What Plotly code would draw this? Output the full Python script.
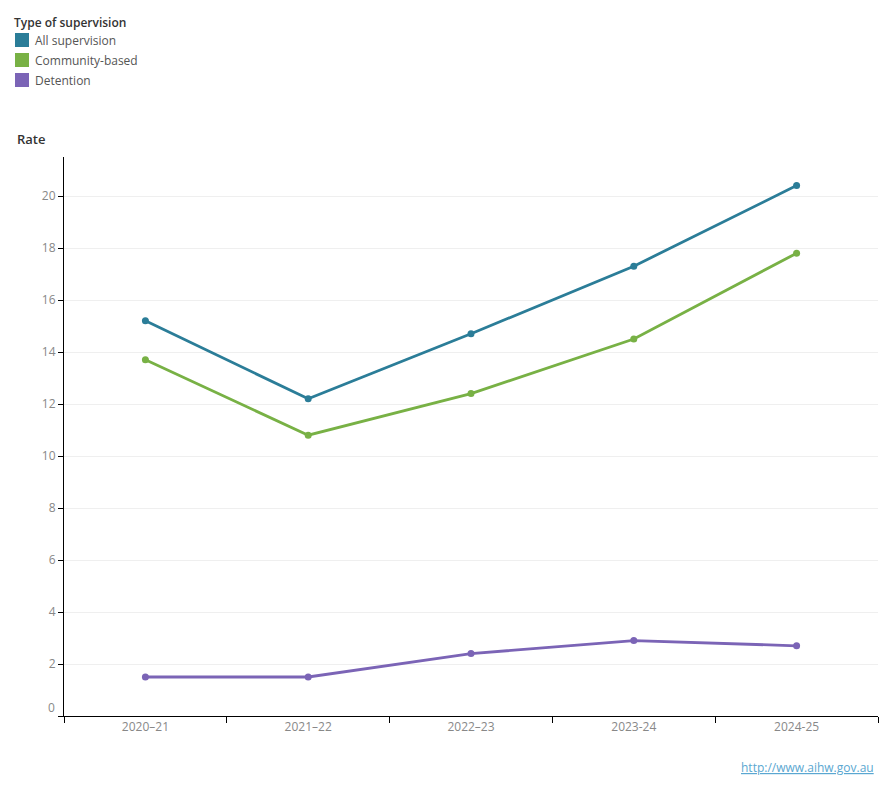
import plotly.graph_objects as go

# ---- data ----
years = ["2020–21", "2021–22", "2022–23", "2023-24", "2024-25"]
series_names = ["All supervision", "Community-based", "Detention"]
all_supervision = [15.2, 12.2, 14.7, 17.3, 20.4]
community_based = [13.7, 10.8, 12.4, 14.5, 17.8]
detention = [1.5, 1.5, 2.4, 2.9, 2.7]
series_colors = ["#2b7d98", "#78b145", "#7b64b6"]
y_tickvals = [0, 2, 4, 6, 8, 10, 12, 14, 16, 18, 20]
y_ticktext = ["", "2", "4", "6", "8", "10", "12", "14", "16", "18", "20"]

W, H = 890, 800
L, R, T, B = 64, 12, 157, 84
PW, PH = W - L - R, H - T - B


def px(x):
    return (x - L) / PW


def py(y):
    return (H - B - y) / PH


FONT = "Open Sans"
fig = go.Figure()
for name, vals, col in zip(series_names, [all_supervision, community_based, detention], series_colors):
    fig.add_trace(go.Scatter(
        x=years, y=vals, name=name, mode="lines+markers",
        line=dict(color=col, width=2.8), marker=dict(color=col, size=7),
        showlegend=False))

shapes = []
annotations = []
# legend
annotations.append(dict(xref="paper", yref="paper", x=px(12), y=py(22), xanchor="left", yanchor="middle",
                        text="Type of supervision", showarrow=False,
                        font=dict(family=FONT, size=12, color="#333333", weight=600)))
for i, (name, col) in enumerate(zip(series_names, series_colors)):
    cy = 40 + 20 * i
    shapes.append(dict(type="rect", xref="paper", yref="paper", x0=px(15), x1=px(29),
                       y0=py(cy + 7), y1=py(cy - 7), fillcolor=col, line=dict(width=0)))
    annotations.append(dict(xref="paper", yref="paper", x=px(33), y=py(cy), xanchor="left", yanchor="middle",
                            text=name, showarrow=False, font=dict(family=FONT, size=12, color="#555555")))
# axis title
annotations.append(dict(xref="paper", yref="paper", x=px(15), y=py(139), xanchor="left", yanchor="middle",
                        text="Rate", showarrow=False,
                        font=dict(family=FONT, size=13, color="#333333", weight=600)))
# zero label shifted up
annotations.append(dict(xref="paper", yref="y", x=px(57), y=0, yshift=9, xanchor="right", yanchor="middle",
                        text="0", showarrow=False, font=dict(family=FONT, size=12, color="#888888")))
# source link
annotations.append(dict(xref="paper", yref="paper", x=px(876), y=py(767), xanchor="right", yanchor="middle",
                        text="<u>http://www.aihw.gov.au</u>", showarrow=False,
                        font=dict(family=FONT, size=12, color="#5aa7d1")))

fig.update_layout(
    width=W, height=H,
    margin=dict(l=L, r=R, t=T, b=B, pad=0),
    paper_bgcolor="white", plot_bgcolor="white",
    font=dict(family=FONT, size=12, color="#888888"),
    shapes=shapes, annotations=annotations,
    showlegend=False,
    xaxis=dict(type="category", range=[-0.5, 4.5], tickson="boundaries", ticks="outside", ticklen=6,
               tickcolor="#000000", showline=True, linecolor="#000000", linewidth=1,
               showgrid=False, zeroline=False, tickfont=dict(family=FONT, size=12, color="#888888")),
    yaxis=dict(range=[0, 21.5], tickvals=y_tickvals, ticktext=y_ticktext, ticks="outside", ticklen=5,
               tickcolor="#000000", showline=True, linecolor="#000000", linewidth=1,
               showgrid=True, gridcolor="#efefef", gridwidth=1, zeroline=False,
               tickfont=dict(family=FONT, size=12, color="#888888")),
)

fig.write_html("out.html")
